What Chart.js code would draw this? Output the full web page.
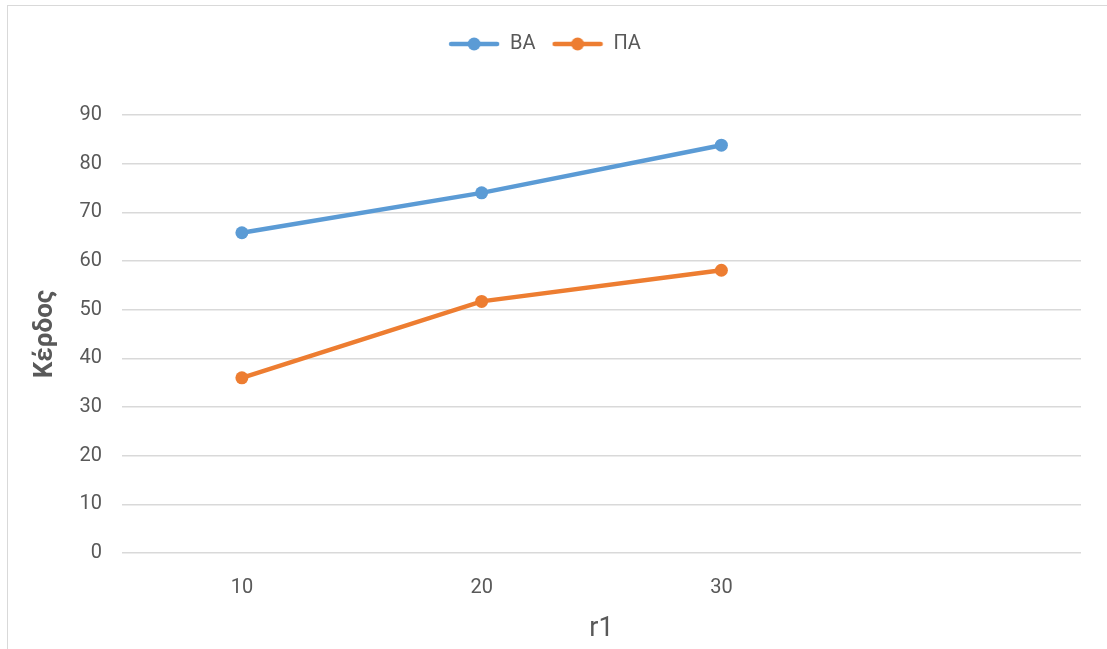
<!DOCTYPE html>
<html>
<head>
<meta charset="utf-8">
<script src="https://cdn.jsdelivr.net/npm/chart.js@4"></script>
<style>
  html, body { margin: 0; padding: 0; background: #fff; overflow: hidden; }
  #frame {
    position: absolute; left: 7px; top: 5px;
    width: 1110px; height: 660px;
    border-left: 1.5px solid #d9d9d9; border-top: 1.5px solid #d9d9d9;
  }
  canvas { display: block; }
</style>
</head>
<body>
<div id="frame"><canvas id="grafica" width="1099" height="643"></canvas></div>
<script>
// datos
const categorias = ['10', '20', '30', ''];
const serieBA = [65.8, 74, 83.8, null];
const seriePA = [36, 51.7, 58.1, null];
const ticksY = { min: 0, max: 90, step: 10 };

const azul = '#5B9BD5';
const naranja = '#ED7D31';
const gris = '#595959';

// icono de leyenda: linea con punto
function iconoLeyenda(color) {
    const c = document.createElement('canvas');
    c.width = 52; c.height = 14;
    const g = c.getContext('2d');
    g.strokeStyle = color;
    g.lineWidth = 4.5;
    g.lineCap = 'round';
    g.beginPath(); g.moveTo(3, 7); g.lineTo(49, 7); g.stroke();
    g.fillStyle = color;
    g.beginPath(); g.arc(26, 7, 6.5, 0, Math.PI * 2); g.fill();
    return c;
}

const altoLeyenda = {
    id: 'altoLeyenda',
    beforeInit(chart) {
        const fit = chart.legend.fit;
        chart.legend.fit = function () {
            fit.bind(chart.legend)();
            this.height = 97;
        };
    }
};

new Chart(document.getElementById('grafica'), {
    type: 'line',
    data: {
        labels: categorias,
        datasets: [
            {
                label: 'ΒΑ',
                data: serieBA,
                borderColor: azul,
                backgroundColor: azul,
                borderWidth: 4.5,
                pointRadius: 6.5,
                pointBorderWidth: 0,
                tension: 0
            },
            {
                label: 'ΠΑ',
                data: seriePA,
                borderColor: naranja,
                backgroundColor: naranja,
                borderWidth: 4.5,
                pointRadius: 6.5,
                pointBorderWidth: 0,
                tension: 0
            }
        ]
    },
    options: {
        responsive: false,
        animation: false,
        layout: { padding: { left: 0, right: 26, top: 12, bottom: 0 } },
        plugins: {
            legend: {
                display: true,
                position: 'top',
                labels: {
                    usePointStyle: true,
                    pointStyleWidth: 52,
                    padding: 16,
                    color: gris,
                    font: { family: 'Roboto', size: 20 },
                    generateLabels(chart) {
                        return chart.data.datasets.map((ds, i) => ({
                            text: ds.label,
                            fillStyle: ds.borderColor,
                            strokeStyle: ds.borderColor,
                            fontColor: gris,
                            lineWidth: 0,
                            pointStyle: iconoLeyenda(ds.borderColor),
                            datasetIndex: i,
                            hidden: false
                        }));
                    }
                }
            },
            tooltip: { enabled: false }
        },
        scales: {
            x: {
                offset: true,
                grid: { display: false },
                border: { display: false },
                ticks: { color: gris, font: { family: 'Roboto', size: 20 }, padding: 15 },
                title: {
                    display: true,
                    text: 'r1',
                    color: gris,
                    font: { family: 'Roboto', size: 27 },
                    padding: { top: 0, bottom: 4 }
                },
                afterFit(scale) { scale.height = 96; }
            },
            y: {
                min: ticksY.min,
                max: ticksY.max,
                grid: { color: '#d9d9d9', lineWidth: 1.5, drawTicks: false },
                border: { display: false },
                ticks: {
                    stepSize: ticksY.step,
                    color: gris,
                    font: { family: 'Roboto', size: 20 },
                    padding: 20
                },
                title: {
                    display: true,
                    text: 'Κέρδος',
                    color: gris,
                    font: { family: 'Roboto', size: 26, weight: 'bold' },
                    padding: { top: 22, bottom: 0 }
                },
                afterFit(scale) { scale.width = 114; }
            }
        }
    },
    plugins: [altoLeyenda]
});
</script>
</body>
</html>
